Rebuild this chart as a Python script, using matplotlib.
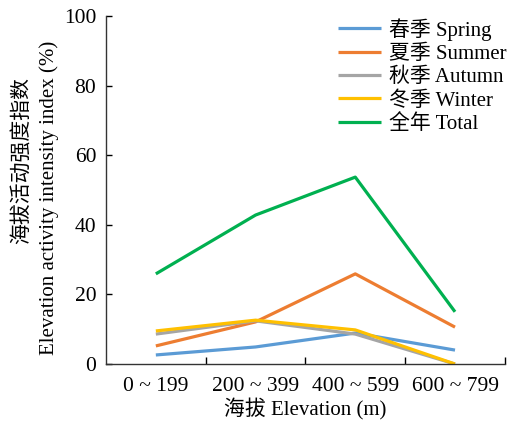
import matplotlib
matplotlib.use("Agg")
import matplotlib.pyplot as plt
import numpy as np

plt.rcParams['font.family'] = ['Liberation Serif', 'Noto Sans CJK SC']

categories = ["0 ~ 199", "200 ~ 399", "400 ~ 599", "600 ~ 799"]
spring = [2.6, 4.9, 8.9, 4.0]
summer = [5.2, 12.1, 25.9, 10.6]
autumn = [8.6, 12.4, 8.6, 0.0]
winter = [9.5, 12.6, 9.8, 0.0]
total = [25.9, 42.8, 53.7, 15.0]

labels = ["春季 Spring", "夏季 Summer", "秋季 Autumn", "冬季 Winter", "全年 Total"]
colors = ["#5B9BD5", "#ED7D31", "#A5A5A5", "#FFC000", "#00B050"]

fig = plt.figure(figsize=(5.11, 4.26), dpi=100)
ax = fig.add_axes([0.2074, 0.1455, 0.7806, 0.817])

x = np.arange(len(categories))
for ys, lab, c in zip([spring, summer, autumn, winter, total], labels, colors):
    ax.plot(x, ys, color=c, lw=2.3, label=lab, solid_capstyle='butt')

ax.set_xlim(-0.5, 3.5)
ax.set_ylim(0, 100)
ax.set_yticks([0, 20, 40, 60, 80, 100])
ax.set_xticks([0.5, 1.5, 2.5, 3.5])
ax.set_xticklabels([])
ax.set_xticks(x, minor=True)
ax.set_xticklabels(categories, minor=True)
ax.tick_params(axis='x', which='minor', length=0, labelsize=15.5, pad=9)
ax.tick_params(axis='x', which='major', direction='in', length=5, width=1)
ax.tick_params(axis='y', direction='in', length=4, width=1, labelsize=15.5, pad=7)

for s in ['top', 'right']:
    ax.spines[s].set_visible(False)
for s in ['left', 'bottom']:
    ax.spines[s].set_linewidth(1)
    ax.spines[s].set_color('#333333')

ax.set_xlabel("海拔 Elevation (m)", fontsize=15, labelpad=2)
fig.text(22/511, 1-161/426, "海拔活动强度指数", rotation=90, fontsize=15, ha='center', va='center')
fig.text(49/511, 1-198/426, "Elevation activity intensity index (%)", rotation=90, fontsize=15, ha='center', va='center')

leg = ax.legend(loc='upper right', bbox_to_anchor=(1.035, 1.03), frameon=False, fontsize=15,
                handlelength=2.1, handletextpad=0.35, labelspacing=0.18, borderaxespad=0.2)

fig.savefig("out.png", dpi=100)
